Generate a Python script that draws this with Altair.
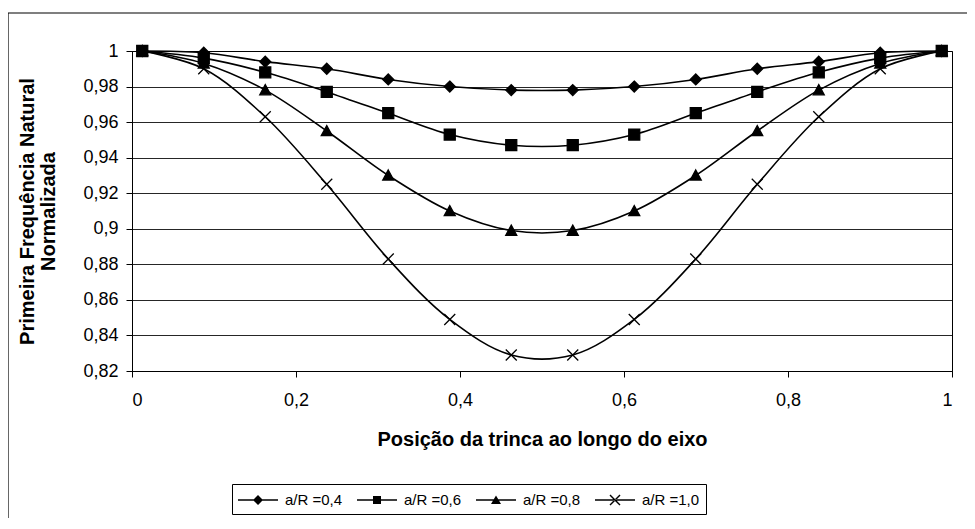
import altair as alt
import pandas as pd

# ---- data ----
positions = [0.0125, 0.0875, 0.1625, 0.2375, 0.3125, 0.3875, 0.4625,
             0.5375, 0.6125, 0.6875, 0.7625, 0.8375, 0.9125, 0.9875]
series_names = ["a/R =0,4", "a/R =0,6", "a/R =0,8", "a/R =1,0"]
vals_04 = [1.000, 0.999, 0.994, 0.990, 0.984, 0.980, 0.978, 0.978, 0.980, 0.984, 0.990, 0.994, 0.999, 1.000]
vals_06 = [1.000, 0.996, 0.988, 0.977, 0.965, 0.953, 0.947, 0.947, 0.953, 0.965, 0.977, 0.988, 0.996, 1.000]
vals_08 = [1.000, 0.993, 0.978, 0.955, 0.930, 0.910, 0.899, 0.899, 0.910, 0.930, 0.955, 0.978, 0.993, 1.000]
vals_10 = [1.000, 0.990, 0.963, 0.925, 0.883, 0.849, 0.829, 0.829, 0.849, 0.883, 0.925, 0.963, 0.990, 1.000]
y_ticks = [0.82, 0.84, 0.86, 0.88, 0.90, 0.92, 0.94, 0.96, 0.98, 1.00]
x_ticks = [0, 0.2, 0.4, 0.6, 0.8, 1.0]

rows = []
for name, vals in zip(series_names, [vals_04, vals_06, vals_08, vals_10]):
    for p, v in zip(positions, vals):
        rows.append({"pos": p, "freq": v, "serie": name})
df = pd.DataFrame(rows)

FONT = "Liberation Sans"

# marker shapes (plot)
marker_paths = [
    "M0,-1L1,0L0,1L-1,0Z",
    "M-1,-1L1,-1L1,1L-1,1Z",
    "M0,-1L1,0.85L-1,0.85Z",
    "M-1,-1L1,1M-1,1L1,-1",
]
# legend symbols: line (0..40px) + marker at its middle, all filled shapes.
line_seg = "M-1,-0.075L3,-0.075L3,0.075L-1,0.075Z"
legend_paths = [
    line_seg + "M1,-0.5L1.5,0L1,0.5L0.5,0Z",
    line_seg + "M0.6,-0.4L1.4,-0.4L1.4,0.4L0.6,0.4Z",
    line_seg + "M1,-0.45L1.5,0.4L0.5,0.4Z",
    line_seg + "M0.45,-0.45L0.55,-0.55L1.55,0.45L1.45,0.55Z"
             + "M0.45,0.45L0.55,0.55L1.55,-0.45L1.45,-0.55Z",
]

x_enc = alt.X("pos:Q",
              scale=alt.Scale(domain=[0, 1], nice=False),
              axis=alt.Axis(values=x_ticks, grid=False, labelOverlap=False,
                            labelExpr="replace(format(datum.value, '.1~f'), '.', ',')",
                            title="Posição da trinca ao longo do eixo"))
y_enc = alt.Y("freq:Q",
              scale=alt.Scale(domain=[0.82, 1], nice=False, zero=False),
              axis=alt.Axis(values=y_ticks, grid=True, labelOverlap=False,
                            labelExpr="replace(format(datum.value, '.2~f'), '.', ',')",
                            title=["Primeira Frequência Natural", "Normalizada"]))

base = alt.Chart(df)

lines = base.mark_line(interpolate="catmull-rom", color="black", strokeWidth=1.6).encode(
    x=x_enc, y=y_enc, detail="serie:N")

points = base.mark_point(stroke="black", strokeWidth=1.3, opacity=1, size=121).encode(
    x=x_enc, y=y_enc,
    shape=alt.Shape("serie:N", scale=alt.Scale(domain=series_names, range=marker_paths), legend=None),
    fill=alt.Fill("serie:N", scale=alt.Scale(domain=series_names,
                                             range=["black", "black", "black", "transparent"]),
                  legend=None),
)

legend_layer = base.mark_point(filled=True, color="black", opacity=0).encode(
    x=x_enc, y=y_enc,
    shape=alt.Shape("serie:N", scale=alt.Scale(domain=series_names, range=legend_paths),
                    legend=alt.Legend(orient="none", legendX=100, legendY=433,
                                      direction="horizontal", title=None,
                                      strokeColor="black", padding=6,
                                      symbolSize=400, symbolOpacity=1,
                                      symbolFillColor="black", symbolStrokeWidth=0,
                                      labelFont=FONT, labelFontSize=15,
                                      labelColor="black", labelOffset=27,
                                      columnPadding=14)),
)

border = alt.Chart(pd.DataFrame({"a": [0]})).mark_rect(
    fill="transparent", stroke="black", strokeWidth=1.2).encode(
    x=alt.value(-124), x2=alt.value(900), y=alt.value(-38), y2=alt.value(600))

chart = alt.layer(border, lines, points, legend_layer).resolve_scale(
    shape="independent", fill="independent"
).properties(
    width=820, height=320,
    padding={"left": 124, "top": 43, "right": 15, "bottom": 147},
    autosize=alt.AutoSizeParams(type="none"),
).configure_view(
    stroke="black", strokeWidth=1
).configure_axis(
    labelFont=FONT, labelFontSize=18, labelColor="black",
    titleFont=FONT, titleFontSize=20, titleFontWeight="bold", titleColor="black",
    domainColor="black", tickColor="black", tickSize=6,
    gridColor="black", gridWidth=1, gridOpacity=0.85,
).configure_axisY(
    labelPadding=8, titlePadding=24, titleLineHeight=21,
).configure_axisX(
    labelPadding=14, titlePadding=20,
)

chart.save("out.html", embed_options={"renderer": "svg", "actions": False})
